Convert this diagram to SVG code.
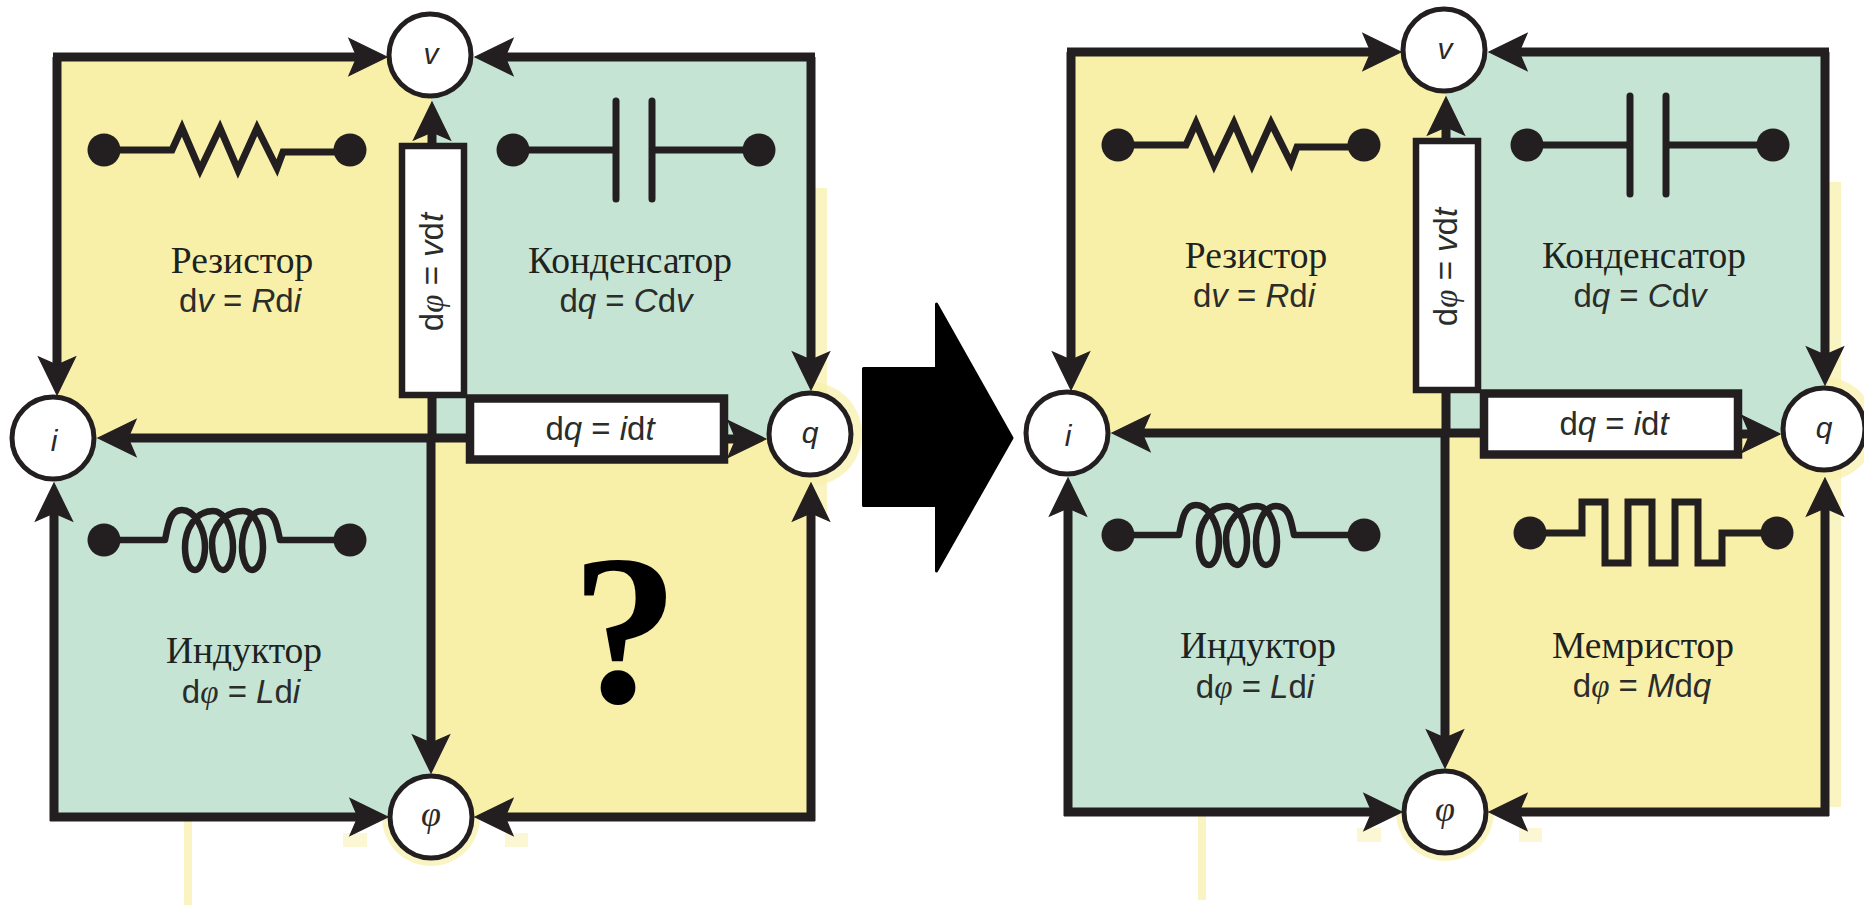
<svg xmlns="http://www.w3.org/2000/svg" width="1864" height="905" viewBox="0 0 1864 905">
<style>
.y{fill:#f8f0a9}.g{fill:#c6e4d4}.s{fill:#f8f0a9;opacity:.7}.s2{fill:#f8f0a9;opacity:.5}
.c{fill:none;stroke:#231f20;stroke-width:9;marker-end:url(#ah)}
.sym{fill:none;stroke:#231f20;stroke-width:7;stroke-linejoin:miter}
.coil{fill:none;stroke:#231f20;stroke-width:6.5;stroke-linejoin:round}
.plate{fill:none;stroke:#231f20;stroke-width:7;stroke-linecap:round}
.dot{fill:#231f20}
.box1{fill:#fff;stroke:#231f20;stroke-width:6.5}
.box2{fill:#fff;stroke:#231f20;stroke-width:8.5}
.n{fill:#fff;stroke:#231f20;stroke-width:5}
.name{font:37.5px "Liberation Serif",serif;text-anchor:middle;fill:#1d2320}
.eq{font:33px "Liberation Sans",sans-serif;text-anchor:middle;fill:#2a2d2a}
.lab{font:italic 30px "Liberation Sans",sans-serif;text-anchor:middle;fill:#2a2a2a}
.q{font:bold 215px "Liberation Serif",serif;text-anchor:middle;fill:#000}
tspan.i{font-style:italic}
tspan.p{font-family:"Liberation Serif",serif;font-style:italic}
.lab.p{font-family:"Liberation Serif",serif;font-size:36px}
</style>
<defs>
<marker id="ah" markerUnits="userSpaceOnUse" viewBox="-42 -22 46 44" refX="-22" refY="0" markerWidth="46" markerHeight="44" orient="auto"><path d="M0 0L-38 -18.5L-30 0L-38 18.5Z" fill="#231f20" stroke="#231f20" stroke-width="1.2"/></marker>
</defs>
<rect width="1864" height="905" fill="#fff"/>

<g id="left-panel">
<g id="fills-left">
<rect class="s" x="811" y="188" width="16" height="325"/>
<circle class="s" cx="810" cy="434" r="52"/>
<rect class="s2" x="343" y="833" width="24" height="14"/>
<rect class="s2" x="505" y="833" width="23" height="14"/>
<circle class="s" cx="431" cy="817" r="49"/>
<rect class="s" x="184" y="820" width="8" height="85"/>
<rect class="y" x="57" y="57" width="374" height="381"/>
<rect class="g" x="431" y="57" width="380" height="381"/>
<rect class="g" x="54" y="438" width="377" height="379"/>
<rect class="y" x="431" y="438" width="380" height="379"/>
</g>
<g id="connectors-left">
<path class="c" d="M53 57H365"/>
<path class="c" d="M57 57V373"/>
<path class="c" d="M815 57H497"/>
<path class="c" d="M811 57V368"/>
<path class="c" d="M432 440V124"/>
<path class="c" d="M431 438V751"/>
<path class="c" d="M466 438H120"/>
<path class="c" d="M700 439H744"/>
<path class="c" d="M50 817H366"/>
<path class="c" d="M815 817H497"/>
<path class="c" d="M54 821V505"/>
<path class="c" d="M811 821V505"/>
</g>
<g id="box-dphi-left"><rect class="box1" x="402" y="146" width="62" height="249"/><text class="eq" transform="translate(443 272) rotate(-90)">d<tspan class="p">φ</tspan> = <tspan class="i">v</tspan>d<tspan class="i">t</tspan></text></g>
<g id="box-dq-left"><rect class="box2" x="470" y="398.5" width="254" height="61"/><text class="eq" x="600" y="440">d<tspan class="i">q</tspan> = <tspan class="i">i</tspan>d<tspan class="i">t</tspan></text></g>
<g id="node-v-left"><circle class="n" cx="430" cy="55" r="41"/><text class="lab" x="431" y="64">v</text></g>
<g id="node-i-left"><circle class="n" cx="53" cy="438" r="41"/><text class="lab" x="54" y="451">i</text></g>
<g id="node-q-left"><circle class="n" cx="810" cy="434" r="41"/><text class="lab" x="810" y="443">q</text></g>
<g id="node-phi-left"><circle class="n" cx="431" cy="817" r="41"/><text class="lab p" x="431" y="826">φ</text></g>
<g id="resistor-left"><path class="sym" d="M104 150H172L182 128L200 170L220 128L238 170L257 128L277 168L283 152H350"/><circle class="dot" cx="104" cy="150" r="16.5"/><circle class="dot" cx="350" cy="150" r="16.5"/><text class="name" x="242" y="273">Резистор</text><text class="eq" x="240" y="312">d<tspan class="i">v</tspan> = <tspan class="i">R</tspan>d<tspan class="i">i</tspan></text></g>
<g id="capacitor-left"><path class="sym" d="M513 150H616M652 150H759"/><path class="plate" d="M616 101V199M652 101V199"/><circle class="dot" cx="513" cy="150" r="16.5"/><circle class="dot" cx="759" cy="150" r="16.5"/><text class="name" x="630" y="273">Конденсатор</text><text class="eq" x="626" y="312">d<tspan class="i">q</tspan> = <tspan class="i">C</tspan>d<tspan class="i">v</tspan></text></g>
<g id="inductor-left"><path class="coil" d="M104 540H165C168 525 170 510 182 510C195 510 205 530 205 547C205 560 200 570 195 570C189 570 185 560 185 547C185 530 195 511 213 511C225 511 233 530 233 547C233 560 228 570 223 570C216 570 212 555 212 543C212 528 225 511 243 511C255 511 263 530 263 547C263 560 258 570 252 570C246 570 242 558 242 547C242 530 250 511 262 511C275 511 277 525 280 540H350"/><circle class="dot" cx="104" cy="540" r="16.5"/><circle class="dot" cx="350" cy="540" r="16.5"/><text class="name" x="244" y="663">Индуктор</text><text class="eq" x="241" y="703">d<tspan class="p">φ</tspan> = <tspan class="i">L</tspan>d<tspan class="i">i</tspan></text></g>
<text id="question" class="q" x="625" y="702">?</text>
</g>

<polygon id="big-arrow" points="863.5,368.5 936.5,368.5 936.5,304 1012,438 936.5,571 936.5,505.5 863.5,505.5" fill="#000" stroke="#000" stroke-width="3" stroke-linejoin="round"/>

<g id="right-panel" transform="translate(1014 -5)">
<g id="fills-right">
<rect class="s" x="811" y="187" width="16" height="625"/>
<circle class="s" cx="810" cy="434" r="52"/>
<rect class="s2" x="343" y="833" width="24" height="14"/>
<rect class="s2" x="505" y="833" width="23" height="14"/>
<circle class="s" cx="431" cy="817" r="49"/>
<rect class="s" x="184" y="820" width="8" height="85"/>
<rect class="y" x="57" y="57" width="374" height="381"/>
<rect class="g" x="431" y="57" width="380" height="381"/>
<rect class="g" x="54" y="438" width="377" height="379"/>
<rect class="y" x="431" y="438" width="380" height="379"/>
</g>
<g id="connectors-right">
<path class="c" d="M53 57H365"/>
<path class="c" d="M57 57V373"/>
<path class="c" d="M815 57H497"/>
<path class="c" d="M811 57V368"/>
<path class="c" d="M432 440V124"/>
<path class="c" d="M431 438V751"/>
<path class="c" d="M466 438H120"/>
<path class="c" d="M700 439H744"/>
<path class="c" d="M50 817H366"/>
<path class="c" d="M815 817H497"/>
<path class="c" d="M54 821V505"/>
<path class="c" d="M811 821V505"/>
</g>
<g id="box-dphi-right"><rect class="box1" x="402" y="146" width="62" height="249"/><text class="eq" transform="translate(443 272) rotate(-90)">d<tspan class="p">φ</tspan> = <tspan class="i">v</tspan>d<tspan class="i">t</tspan></text></g>
<g id="box-dq-right"><rect class="box2" x="470" y="398.5" width="254" height="61"/><text class="eq" x="600" y="440">d<tspan class="i">q</tspan> = <tspan class="i">i</tspan>d<tspan class="i">t</tspan></text></g>
<g id="node-v-right"><circle class="n" cx="430" cy="55" r="41"/><text class="lab" x="431" y="64">v</text></g>
<g id="node-i-right"><circle class="n" cx="53" cy="438" r="41"/><text class="lab" x="54" y="451">i</text></g>
<g id="node-q-right"><circle class="n" cx="810" cy="434" r="41"/><text class="lab" x="810" y="443">q</text></g>
<g id="node-phi-right"><circle class="n" cx="431" cy="817" r="41"/><text class="lab p" x="431" y="826">φ</text></g>
<g id="resistor-right"><path class="sym" d="M104 150H172L182 128L200 170L220 128L238 170L257 128L277 168L283 152H350"/><circle class="dot" cx="104" cy="150" r="16.5"/><circle class="dot" cx="350" cy="150" r="16.5"/><text class="name" x="242" y="273">Резистор</text><text class="eq" x="240" y="312">d<tspan class="i">v</tspan> = <tspan class="i">R</tspan>d<tspan class="i">i</tspan></text></g>
<g id="capacitor-right"><path class="sym" d="M513 150H616M652 150H759"/><path class="plate" d="M616 101V199M652 101V199"/><circle class="dot" cx="513" cy="150" r="16.5"/><circle class="dot" cx="759" cy="150" r="16.5"/><text class="name" x="630" y="273">Конденсатор</text><text class="eq" x="626" y="312">d<tspan class="i">q</tspan> = <tspan class="i">C</tspan>d<tspan class="i">v</tspan></text></g>
<g id="inductor-right"><path class="coil" d="M104 540H165C168 525 170 510 182 510C195 510 205 530 205 547C205 560 200 570 195 570C189 570 185 560 185 547C185 530 195 511 213 511C225 511 233 530 233 547C233 560 228 570 223 570C216 570 212 555 212 543C212 528 225 511 243 511C255 511 263 530 263 547C263 560 258 570 252 570C246 570 242 558 242 547C242 530 250 511 262 511C275 511 277 525 280 540H350"/><circle class="dot" cx="104" cy="540" r="16.5"/><circle class="dot" cx="350" cy="540" r="16.5"/><text class="name" x="244" y="663">Индуктор</text><text class="eq" x="241" y="703">d<tspan class="p">φ</tspan> = <tspan class="i">L</tspan>d<tspan class="i">i</tspan></text></g>
<g id="memristor-right"><path class="sym" d="M516 538H568V507H591V568H614V507H638V568H661V507H684V568H708V538H763"/><circle class="dot" cx="516" cy="538" r="16.5"/><circle class="dot" cx="763" cy="538" r="16.5"/><text class="name" x="629" y="663">Мемристор</text><text class="eq" x="628" y="702">d<tspan class="p">φ</tspan> = <tspan class="i">M</tspan>d<tspan class="i">q</tspan></text></g>
</g>
</svg>
